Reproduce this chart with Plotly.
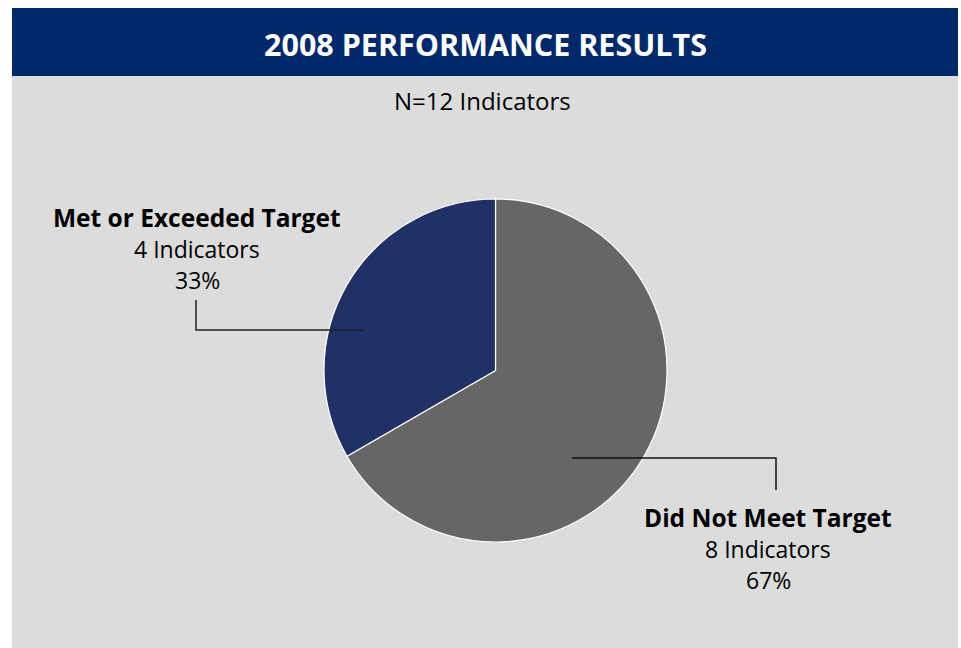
import plotly.graph_objects as go

title = "2008 PERFORMANCE RESULTS"
subtitle = "N=12 Indicators"
labels = ["Did Not Meet Target", "Met or Exceeded Target"]
values = [8, 4]
colors = ["#666666", "#223068"]

W, H = 961, 648
cx, cy, r = 495.5, 370.5, 171.5

total = sum(values)
fig = go.Figure(go.Pie(
    labels=labels, values=values, sort=False, direction="clockwise",
    rotation=0, textinfo="none", hoverinfo="label+value+percent",
    marker=dict(colors=colors, line=dict(color="white", width=1.2)),
    domain=dict(x=[(cx - r) / W, (cx + r) / W], y=[1 - (cy + r) / H, 1 - (cy - r) / H]),
    showlegend=False,
))

font = "'Open Sans', Lato, sans-serif"

def px(x):
    return x / W

def py(y):
    return 1 - y / H

shapes = [
    dict(type="rect", xref="paper", yref="paper", x0=px(12), x1=px(958), y0=py(648), y1=py(76),
         fillcolor="#DCDCDC", line=dict(width=0), layer="below"),
    dict(type="rect", xref="paper", yref="paper", x0=px(12), x1=px(958), y0=py(76), y1=py(8),
         fillcolor="#00296B", line=dict(width=0), layer="below"),
    # leader lines
    dict(type="path", xref="paper", yref="paper",
         path=f"M {px(572)} {py(458)} L {px(776)} {py(458)} L {px(776)} {py(490)}",
         line=dict(color="#111111", width=1.5)),
    dict(type="path", xref="paper", yref="paper",
         path=f"M {px(365)} {py(330)} L {px(196)} {py(330)} L {px(196)} {py(300)}",
         line=dict(color="#222222", width=1.5)),
]

label_pos = [(768, 517), (197, 217)]

def ann(text, x, y, size, color="black"):
    return dict(text=text, x=px(x), y=py(y), xref="paper", yref="paper",
                xanchor="center", yanchor="middle", showarrow=False,
                font=dict(family=font, size=size, color=color))

annotations = [
    ann(f"<b>{title}</b>", 485, 44, 30.5, "white"),
    ann(subtitle, 483, 100, 24),
]
for lab, v, (lx, ly) in zip(labels, values, label_pos):
    pct = round(100 * v / total)
    annotations.append(ann(f"<b>{lab}</b>", lx, ly, 24.5))
    annotations.append(ann(f"{v} Indicators", lx, ly + 32, 23))
    annotations.append(ann(f"{pct}%", lx, ly + 63, 23))

fig.update_layout(
    width=W, height=H, margin=dict(l=0, r=0, t=0, b=0),
    paper_bgcolor="white", plot_bgcolor="white",
    shapes=shapes, annotations=annotations,
)

fig.write_html("out.html", config={"displayModeBar": False},
               post_script="document.body.style.margin='0';document.body.style.overflow='hidden';")
